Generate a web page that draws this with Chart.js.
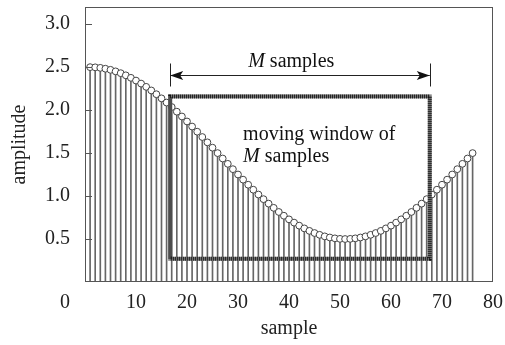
<!DOCTYPE html>
<html>
<head>
<meta charset="utf-8">
<script src="https://cdn.jsdelivr.net/npm/chart.js@4.4.1/dist/chart.umd.min.js"></script>
<style>
    html, body { margin: 0; padding: 0; background: #fff; }
</style>
</head>
<body>
<canvas id="chart" width="505" height="345"></canvas>
<script>
// sample index and amplitude (stems + circles)
var samples = [1, 2, 3, 4, 5, 6, 7, 8, 9, 10, 11, 12, 13, 14, 15, 16, 17, 18, 19, 20,
    21, 22, 23, 24, 25, 26, 27, 28, 29, 30, 31, 32, 33, 34, 35, 36, 37, 38, 39, 40,
    41, 42, 43, 44, 45, 46, 47, 48, 49, 50, 51, 52, 53, 54, 55, 56, 57, 58, 59, 60,
    61, 62, 63, 64, 65, 66, 67, 68, 69, 70, 71, 72, 73, 74, 75, 76];
var amplitude = [2.500, 2.498, 2.492, 2.482, 2.469, 2.451, 2.430, 2.405, 2.376, 2.344,
    2.309, 2.271, 2.229, 2.185, 2.137, 2.088, 2.036, 1.982, 1.926, 1.868,
    1.809, 1.749, 1.687, 1.625, 1.563, 1.500, 1.437, 1.375, 1.313, 1.251,
    1.191, 1.132, 1.074, 1.018, 0.964, 0.912, 0.863, 0.815, 0.771, 0.729,
    0.691, 0.656, 0.624, 0.595, 0.570, 0.549, 0.531, 0.518, 0.508, 0.502,
    0.500, 0.502, 0.508, 0.518, 0.531, 0.549, 0.570, 0.595, 0.624, 0.656,
    0.691, 0.729, 0.771, 0.815, 0.863, 0.912, 0.964, 1.018, 1.074, 1.132,
    1.191, 1.251, 1.313, 1.375, 1.437, 1.500];

var xTickValues = [0, 10, 20, 30, 40, 50, 60, 70, 80];
var yTickValues = [0.5, 1.0, 1.5, 2.0, 2.5, 3.0];

// moving window box and arrow, in data units
var windowStart = 16.7, windowEnd = 67.6;
var windowTop = 2.16, windowBottom = 0.27;
var arrowLevel = 2.41;
var topLabel = ["M", " samples"];
var boxLabel = ["moving window of", "M", " samples"];

var serif = "'Liberation Serif', 'Times New Roman', serif";

var overlay = {
    id: "overlay",
    afterDatasetsDraw: function(chart) {
        var ctx = chart.ctx, xs = chart.scales.x, ys = chart.scales.y, a = chart.chartArea;
        ctx.save();

        // frame
        ctx.strokeStyle = "#555";
        ctx.lineWidth = 1;
        ctx.strokeRect(a.left + 0.5, a.top + 0.5, a.right - a.left - 1, a.bottom - a.top - 1);

        // inward tick marks on y
        ctx.beginPath();
        yTickValues.forEach(function(v) {
            var py = Math.round(ys.getPixelForValue(v)) + 0.5;
            ctx.moveTo(a.left, py);
            ctx.lineTo(a.left + 7, py);
        });
        ctx.stroke();

        // moving window box (hatched heavy line)
        var l = xs.getPixelForValue(windowStart), r = xs.getPixelForValue(windowEnd);
        var t = ys.getPixelForValue(windowTop), b = ys.getPixelForValue(windowBottom);
        ctx.lineWidth = 4;
        ctx.strokeStyle = "#8a8a8a";
        ctx.strokeRect(l, t, r - l, b - t);
        ctx.setLineDash([1, 1]);
        ctx.strokeStyle = "#111";
        ctx.strokeRect(l, t, r - l, b - t);
        ctx.setLineDash([]);

        // M samples arrow
        var ya = Math.round(ys.getPixelForValue(arrowLevel)) + 0.5;
        ctx.lineWidth = 1;
        ctx.strokeStyle = "#222";
        ctx.beginPath();
        ctx.moveTo(l, ya); ctx.lineTo(r, ya);
        ctx.moveTo(Math.round(l) + 0.5, ya - 12); ctx.lineTo(Math.round(l) + 0.5, ya + 11);
        ctx.moveTo(Math.round(r) + 0.5, ya - 12); ctx.lineTo(Math.round(r) + 0.5, ya + 11);
        ctx.stroke();
        ctx.fillStyle = "#111";
        ctx.beginPath();
        ctx.moveTo(l, ya); ctx.lineTo(l + 13, ya - 4.5); ctx.lineTo(l + 10, ya); ctx.lineTo(l + 13, ya + 4.5);
        ctx.closePath();
        ctx.moveTo(r, ya); ctx.lineTo(r - 13, ya - 4.5); ctx.lineTo(r - 10, ya); ctx.lineTo(r - 13, ya + 4.5);
        ctx.closePath();
        ctx.fill();

        // texts
        ctx.fillStyle = "#111";
        ctx.textBaseline = "alphabetic";
        ctx.textAlign = "left";
        var tx = xs.getPixelForValue(32);
        ctx.font = "italic 20px " + serif;
        ctx.fillText(topLabel[0], tx, ya - 9);
        var mw = ctx.measureText(topLabel[0]).width;
        ctx.font = "20px " + serif;
        ctx.fillText(topLabel[1], tx + mw, ya - 9);

        var bx = xs.getPixelForValue(31);
        ctx.fillText(boxLabel[0], bx, ys.getPixelForValue(1.65));
        ctx.font = "italic 20px " + serif;
        ctx.fillText(boxLabel[1], bx, ys.getPixelForValue(1.395));
        mw = ctx.measureText(boxLabel[1]).width;
        ctx.font = "20px " + serif;
        ctx.fillText(boxLabel[2], bx + mw, ys.getPixelForValue(1.395));

        // the 0 label sits left of the axis corner
        ctx.textAlign = "center";
        ctx.textBaseline = "middle";
        ctx.fillStyle = "#222";
        ctx.fillText("0", xs.getPixelForValue(0) - 20, a.bottom + 9 + 12);

        ctx.restore();
    }
};

var points = samples.map(function(s, i) { return { x: s, y: amplitude[i] }; });

new Chart(document.getElementById("chart"), {
    type: "bar",
    data: {
        datasets: [
            {
                type: "line",
                data: points,
                showLine: false,
                pointRadius: 3.4,
                pointBackgroundColor: "#fff",
                pointBorderColor: "#444",
                pointBorderWidth: 1,
                order: 0
            },
            {
                type: "bar",
                data: points,
                backgroundColor: "#666",
                borderWidth: 0,
                barThickness: 1,
                order: 1
            }
        ]
    },
    options: {
        responsive: false,
        animation: false,
        layout: { padding: { top: 7, right: 12, left: 0, bottom: 0 } },
        plugins: { legend: { display: false }, tooltip: { enabled: false } },
        scales: {
            x: {
                type: "linear",
                min: 0,
                max: 80,
                offset: false,
                grid: { display: false, offset: false, drawTicks: false },
                border: { display: false },
                afterBuildTicks: function(scale) {
                    scale.ticks = xTickValues.map(function(v) { return { value: v }; });
                },
                afterFit: function(scale) {
                    scale.height = 63;
                    scale.paddingLeft = 0;
                    scale.paddingRight = 0;
                },
                ticks: {
                    padding: 9,
                    maxRotation: 0,
                    color: "#222",
                    font: { family: serif, size: 20 },
                    callback: function(v) { return v === 0 ? "" : String(v); }
                },
                title: {
                    display: true,
                    text: "sample",
                    color: "#222",
                    font: { family: serif, size: 20 },
                    padding: { top: 0, bottom: 4 }
                }
            },
            y: {
                min: 0,
                max: 3.2,
                grid: { display: false, drawTicks: false },
                border: { display: false },
                afterBuildTicks: function(scale) {
                    scale.ticks = yTickValues.map(function(v) { return { value: v }; });
                },
                afterFit: function(scale) {
                    scale.width = 85;
                    scale.paddingTop = 0;
                    scale.paddingBottom = 0;
                },
                ticks: {
                    padding: 15,
                    color: "#222",
                    font: { family: serif, size: 20 },
                    callback: function(v) { return Number(v).toFixed(1); }
                },
                title: {
                    display: true,
                    text: "amplitude",
                    color: "#222",
                    font: { family: serif, size: 20 },
                    padding: { top: 8, bottom: 0 }
                }
            }
        }
    },
    plugins: [overlay]
});
</script>
</body>
</html>
